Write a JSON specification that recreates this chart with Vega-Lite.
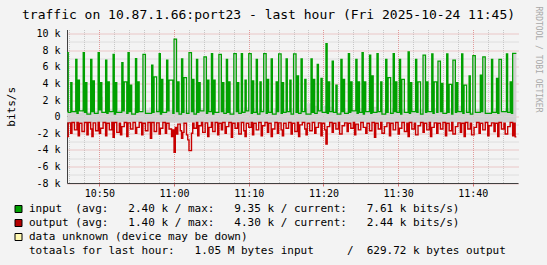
{
  "$schema": "https://vega.github.io/schema/vega-lite/v6.json",
  "width": 451,
  "height": 153.5,
  "autosize": {"type": "none"},
  "padding": {"left": 67, "top": 29.5, "right": 29, "bottom": 82},
  "background": "#f3f3f3",
  "title": {
    "text": "traffic on 10.87.1.66:port23 - last hour (Fri 2025-10-24 11:45)",
    "font": "DejaVu Sans Mono", "fontSize": 13, "fontWeight": "normal", "color": "#000000",
    "anchor": "start", "frame": "group", "dx": -45, "baseline": "alphabetic", "offset": -25.6
  },
  "config": {
    "font": "DejaVu Sans Mono",
    "view": {"fill": "#ffffff", "stroke": null}
  },
  "datasets": {
    "input": [
      {"t":-860,"v":7.7},{"t":-850,"v":0.5},{"t":-830,"v":4.1},{"t":-820,"v":0.6},{"t":-790,"v":6.9},{"t":-780,"v":0.4},{"t":-770,"v":4.4},{"t":-760,"v":0.7},
      {"t":-730,"v":7.7},{"t":-720,"v":0.5},{"t":-710,"v":4.1},{"t":-700,"v":0.3},{"t":-670,"v":6.9},{"t":-660,"v":0.6},{"t":-650,"v":4.3},{"t":-640,"v":0.4},
      {"t":-610,"v":7.7},{"t":-600,"v":0.8},{"t":-590,"v":4.1},{"t":-580,"v":0.5},{"t":-550,"v":6.8},{"t":-540,"v":0.4},{"t":-530,"v":4.2},{"t":-520,"v":0.6},
      {"t":-490,"v":7.5},{"t":-480,"v":0.3},{"t":-470,"v":4.1},{"t":-460,"v":0.5},{"t":-420,"v":6.5},{"t":-410,"v":0.7},{"t":-400,"v":4.2},{"t":-380,"v":0.4},
      {"t":-370,"v":7.7},{"t":-360,"v":0.6},{"t":-350,"v":3.8},{"t":-340,"v":0.3},{"t":-310,"v":7.0},{"t":-300,"v":0.5},{"t":-290,"v":4.2},{"t":-280,"v":0.6},
      {"t":-250,"v":7.5},{"t":-230,"v":0.4},{"t":-180,"v":6.2},{"t":-170,"v":0.5},{"t":-160,"v":4.8},{"t":-140,"v":0.6},{"t":-120,"v":7.6},{"t":-110,"v":0.3},
      {"t":-100,"v":4.5},{"t":-90,"v":0.5},{"t":-60,"v":6.8},{"t":-50,"v":0.7},{"t":-40,"v":4.4},{"t":-10,"v":0.4},{"t":0,"v":9.35},{"t":20,"v":0.6},
      {"t":30,"v":4.2},{"t":40,"v":0.3},{"t":60,"v":6.95},{"t":70,"v":0.5},{"t":80,"v":4.7},{"t":100,"v":0.4},{"t":120,"v":7.7},{"t":140,"v":0.6},
      {"t":150,"v":4.5},{"t":160,"v":0.3},{"t":180,"v":6.9},{"t":190,"v":0.5},{"t":200,"v":4.1},{"t":210,"v":0.7},{"t":240,"v":7.2},{"t":260,"v":0.4},
      {"t":270,"v":4.4},{"t":280,"v":0.6},{"t":300,"v":7.6},{"t":310,"v":0.3},{"t":320,"v":4.4},{"t":330,"v":0.5},{"t":360,"v":7.5},{"t":380,"v":0.6},
      {"t":390,"v":4.1},{"t":400,"v":0.4},{"t":420,"v":6.9},{"t":430,"v":0.5},{"t":440,"v":4.2},{"t":450,"v":0.3},{"t":480,"v":7.6},{"t":500,"v":0.6},
      {"t":510,"v":4.1},{"t":520,"v":0.4},{"t":540,"v":7.6},{"t":550,"v":0.5},{"t":570,"v":4.4},{"t":580,"v":0.7},{"t":600,"v":7.6},{"t":620,"v":0.4},
      {"t":630,"v":4.3},{"t":640,"v":0.5},{"t":660,"v":6.9},{"t":670,"v":0.3},{"t":690,"v":4.2},{"t":700,"v":0.6},{"t":720,"v":7.6},{"t":740,"v":0.4},
      {"t":750,"v":4.5},{"t":760,"v":0.5},{"t":780,"v":6.95},{"t":790,"v":0.3},{"t":820,"v":4.2},{"t":830,"v":0.6},{"t":840,"v":7.55},{"t":860,"v":0.4},
      {"t":870,"v":4.1},{"t":880,"v":0.5},{"t":900,"v":6.95},{"t":910,"v":0.6},{"t":930,"v":4.4},{"t":940,"v":0.3},{"t":960,"v":7.55},{"t":980,"v":0.5},
      {"t":990,"v":4.9},{"t":1000,"v":0.4},{"t":1020,"v":6.95},{"t":1030,"v":0.6},{"t":1050,"v":4.5},{"t":1060,"v":0.3},{"t":1100,"v":6.95},{"t":1110,"v":0.5},
      {"t":1120,"v":4.5},{"t":1130,"v":0.4},{"t":1150,"v":6.3},{"t":1160,"v":0.7},{"t":1180,"v":4.6},{"t":1190,"v":0.5},{"t":1220,"v":8.8},{"t":1230,"v":0.4},
      {"t":1240,"v":4.2},{"t":1250,"v":0.6},{"t":1270,"v":6.7},{"t":1280,"v":0.5},{"t":1300,"v":3.8},{"t":1310,"v":0.3},{"t":1340,"v":6.9},{"t":1350,"v":0.6},
      {"t":1360,"v":4.5},{"t":1370,"v":0.4},{"t":1400,"v":7.6},{"t":1410,"v":0.5},{"t":1420,"v":4.2},{"t":1430,"v":0.7},{"t":1460,"v":6.9},{"t":1470,"v":0.4},
      {"t":1480,"v":4.2},{"t":1490,"v":0.5},{"t":1510,"v":7.7},{"t":1520,"v":0.3},{"t":1530,"v":4.2},{"t":1540,"v":0.6},{"t":1570,"v":7.4},{"t":1580,"v":0.4},
      {"t":1590,"v":4.9},{"t":1600,"v":0.5},{"t":1630,"v":7.6},{"t":1640,"v":0.6},{"t":1660,"v":4.2},{"t":1670,"v":0.3},{"t":1700,"v":6.9},{"t":1710,"v":0.5},
      {"t":1720,"v":4.7},{"t":1740,"v":0.4},{"t":1760,"v":7.6},{"t":1770,"v":0.6},{"t":1780,"v":4.2},{"t":1790,"v":0.5},{"t":1810,"v":6.9},{"t":1820,"v":0.3},
      {"t":1830,"v":4.5},{"t":1850,"v":0.5},{"t":1880,"v":7.8},{"t":1890,"v":0.4},{"t":1900,"v":4.1},{"t":1910,"v":0.6},{"t":1940,"v":6.9},{"t":1950,"v":0.5},
      {"t":1960,"v":4.2},{"t":1980,"v":0.3},{"t":2000,"v":7.4},{"t":2020,"v":0.5},{"t":2030,"v":4.2},{"t":2040,"v":0.6},{"t":2070,"v":7.55},{"t":2080,"v":0.4},
      {"t":2090,"v":4.2},{"t":2110,"v":0.5},{"t":2120,"v":6.7},{"t":2140,"v":0.6},{"t":2150,"v":4.0},{"t":2160,"v":0.4},{"t":2190,"v":7.55},{"t":2200,"v":0.5},
      {"t":2210,"v":3.9},{"t":2230,"v":0.3},{"t":2240,"v":6.8},{"t":2260,"v":0.5},{"t":2270,"v":4.1},{"t":2280,"v":0.6},{"t":2310,"v":7.55},{"t":2320,"v":0.4},
      {"t":2330,"v":3.8},{"t":2350,"v":0.5},{"t":2370,"v":4.9},{"t":2380,"v":0.3},{"t":2400,"v":7.35},{"t":2420,"v":0.5},{"t":2460,"v":5.0},{"t":2470,"v":0.6},
      {"t":2480,"v":7.2},{"t":2500,"v":0.4},{"t":2550,"v":6.9},{"t":2560,"v":0.5},{"t":2590,"v":4.6},{"t":2600,"v":0.4},{"t":2610,"v":6.9},{"t":2630,"v":0.6},
      {"t":2670,"v":7.55},{"t":2680,"v":0.5},{"t":2700,"v":4.2},{"t":2710,"v":0.4},{"t":2720,"v":7.61},{"t":2750,"v":7.61}
    ],
    "output": [
      {"t":-860,"v":-2.4},{"t":-850,"v":-0.75},{"t":-830,"v":-2.0},{"t":-820,"v":-0.7},{"t":-800,"v":-1.6},{"t":-780,"v":-0.7},{"t":-770,"v":-2.3},{"t":-760,"v":-0.8},
      {"t":-740,"v":-1.8},{"t":-720,"v":-0.7},{"t":-700,"v":-2.2},{"t":-690,"v":-0.7},{"t":-670,"v":-1.5},{"t":-660,"v":-2.4},{"t":-650,"v":-0.75},{"t":-630,"v":-1.7},
      {"t":-610,"v":-0.7},{"t":-600,"v":-2.0},{"t":-590,"v":-1.4},{"t":-570,"v":-0.7},{"t":-550,"v":-2.3},{"t":-540,"v":-0.8},{"t":-520,"v":-1.6},{"t":-500,"v":-0.7},
      {"t":-490,"v":-2.5},{"t":-480,"v":-0.7},{"t":-460,"v":-1.9},{"t":-440,"v":-0.8},{"t":-430,"v":-2.2},{"t":-420,"v":-1.2},{"t":-400,"v":-0.7},{"t":-380,"v":-2.4},
      {"t":-370,"v":-0.75},{"t":-350,"v":-1.5},{"t":-330,"v":-0.7},{"t":-310,"v":-2.0},{"t":-300,"v":-1.3},{"t":-280,"v":-0.7},{"t":-260,"v":-2.2},{"t":-250,"v":-0.8},
      {"t":-230,"v":-1.7},{"t":-210,"v":-0.7},{"t":-190,"v":-2.6},{"t":-180,"v":-0.7},{"t":-160,"v":-1.8},{"t":-140,"v":-0.75},{"t":-120,"v":-2.1},{"t":-110,"v":-1.4},
      {"t":-90,"v":-0.7},{"t":-70,"v":-2.0},{"t":-60,"v":-0.8},{"t":-40,"v":-1.5},{"t":-20,"v":-2.4},{"t":-10,"v":-1.6},{"t":0,"v":-4.3},{"t":10,"v":-1.3},
      {"t":20,"v":-2.1},{"t":30,"v":-0.9},{"t":50,"v":-1.7},{"t":60,"v":-2.6},{"t":70,"v":-1.9},{"t":80,"v":-0.8},{"t":100,"v":-2.2},{"t":110,"v":-2.8},
      {"t":120,"v":-4.1},{"t":140,"v":-2.0},{"t":150,"v":-0.8},{"t":160,"v":-1.4},{"t":180,"v":-0.7},{"t":190,"v":-2.3},{"t":200,"v":-1.1},{"t":220,"v":-0.7},
      {"t":230,"v":-1.9},{"t":250,"v":-0.75},{"t":270,"v":-2.4},{"t":280,"v":-1.3},{"t":300,"v":-0.7},{"t":310,"v":-1.8},{"t":330,"v":-0.7},{"t":350,"v":-2.2},
      {"t":360,"v":-0.8},{"t":380,"v":-1.6},{"t":390,"v":-0.7},{"t":410,"v":-2.0},{"t":420,"v":-1.2},{"t":440,"v":-0.7},{"t":460,"v":-2.5},{"t":470,"v":-0.8},
      {"t":490,"v":-1.4},{"t":510,"v":-0.75},{"t":520,"v":-2.1},{"t":540,"v":-0.7},{"t":560,"v":-1.7},{"t":570,"v":-2.4},{"t":580,"v":-0.8},{"t":600,"v":-1.3},
      {"t":620,"v":-0.7},{"t":630,"v":-2.2},{"t":640,"v":-0.8},{"t":660,"v":-1.6},{"t":680,"v":-0.7},{"t":700,"v":-2.3},{"t":710,"v":-1.1},{"t":730,"v":-0.7},
      {"t":750,"v":-1.9},{"t":760,"v":-0.8},{"t":780,"v":-2.4},{"t":790,"v":-1.5},{"t":810,"v":-0.7},{"t":830,"v":-2.0},{"t":840,"v":-0.75},{"t":860,"v":-1.6},
      {"t":870,"v":-2.3},{"t":880,"v":-0.8},{"t":900,"v":-1.4},{"t":920,"v":-0.7},{"t":940,"v":-2.1},{"t":950,"v":-0.8},{"t":970,"v":-1.8},{"t":990,"v":-0.7},
      {"t":1000,"v":-2.4},{"t":1010,"v":-1.0},{"t":1030,"v":-0.7},{"t":1050,"v":-1.5},{"t":1060,"v":-2.2},{"t":1070,"v":-0.8},{"t":1090,"v":-1.7},{"t":1110,"v":-0.7},
      {"t":1130,"v":-2.0},{"t":1140,"v":-1.3},{"t":1160,"v":-0.75},{"t":1180,"v":-2.3},{"t":1190,"v":-0.8},{"t":1210,"v":-1.6},{"t":1220,"v":-3.3},{"t":1230,"v":-1.2},
      {"t":1250,"v":-0.7},{"t":1270,"v":-1.9},{"t":1280,"v":-0.8},{"t":1300,"v":-1.5},{"t":1320,"v":-0.7},{"t":1330,"v":-2.1},{"t":1350,"v":-1.1},{"t":1370,"v":-0.75},
      {"t":1390,"v":-1.8},{"t":1400,"v":-0.8},{"t":1420,"v":-1.4},{"t":1440,"v":-0.7},{"t":1450,"v":-2.2},{"t":1460,"v":-0.9},{"t":1480,"v":-1.6},{"t":1500,"v":-0.7},
      {"t":1520,"v":-1.3},{"t":1540,"v":-2.0},{"t":1550,"v":-0.8},{"t":1570,"v":-1.7},{"t":1590,"v":-0.7},{"t":1610,"v":-2.5},{"t":1620,"v":-0.8},{"t":1640,"v":-1.5},
      {"t":1660,"v":-0.7},{"t":1670,"v":-2.0},{"t":1690,"v":-1.2},{"t":1710,"v":-0.75},{"t":1730,"v":-2.3},{"t":1740,"v":-0.8},{"t":1760,"v":-1.6},{"t":1780,"v":-0.7},
      {"t":1800,"v":-2.1},{"t":1810,"v":-1.4},{"t":1830,"v":-0.7},{"t":1850,"v":-1.8},{"t":1870,"v":-0.8},{"t":1880,"v":-2.4},{"t":1890,"v":-0.7},{"t":1910,"v":-1.5},
      {"t":1930,"v":-0.8},{"t":1940,"v":-2.2},{"t":1960,"v":-1.1},{"t":1980,"v":-0.7},{"t":2000,"v":-1.9},{"t":2010,"v":-0.8},{"t":2030,"v":-1.6},{"t":2050,"v":-0.7},
      {"t":2060,"v":-2.4},{"t":2070,"v":-1.3},{"t":2090,"v":-0.75},{"t":2110,"v":-2.0},{"t":2120,"v":-0.8},{"t":2140,"v":-1.5},{"t":2160,"v":-0.7},{"t":2180,"v":-2.3},
      {"t":2190,"v":-0.8},{"t":2210,"v":-1.7},{"t":2230,"v":-0.7},{"t":2240,"v":-2.1},{"t":2260,"v":-1.2},{"t":2280,"v":-0.75},{"t":2300,"v":-1.9},{"t":2310,"v":-0.8},
      {"t":2330,"v":-2.4},{"t":2340,"v":-0.7},{"t":2360,"v":-1.5},{"t":2380,"v":-0.8},{"t":2390,"v":-2.2},{"t":2410,"v":-1.3},{"t":2430,"v":-0.7},{"t":2450,"v":-2.0},
      {"t":2460,"v":-0.8},{"t":2480,"v":-1.6},{"t":2500,"v":-0.7},{"t":2520,"v":-2.3},{"t":2530,"v":-1.1},{"t":2550,"v":-0.75},{"t":2570,"v":-1.8},{"t":2580,"v":-0.8},
      {"t":2600,"v":-2.4},{"t":2610,"v":-0.7},{"t":2630,"v":-1.5},{"t":2650,"v":-0.8},{"t":2660,"v":-2.1},{"t":2680,"v":-1.2},{"t":2700,"v":-0.7},{"t":2720,"v":-2.3},
      {"t":2730,"v":-0.8},{"t":2740,"v":-2.44},{"t":2750,"v":-2.44}
    ],
    "grayin": [
      {"t":-860,"v":0.6},{"t":-820,"v":0.8},{"t":-780,"v":0.5},{"t":-740,"v":0.9},{"t":-700,"v":0.6},{"t":-660,"v":0.7},{"t":-610,"v":2.4},{"t":-570,"v":0.6},
      {"t":-530,"v":0.9},{"t":-500,"v":0.5},{"t":-450,"v":0.8},{"t":-420,"v":1.3},{"t":-400,"v":0.7},{"t":-360,"v":0.5},{"t":-320,"v":1.0},{"t":-280,"v":0.6},
      {"t":-250,"v":7.5},{"t":-230,"v":0.8},{"t":-200,"v":1.1},{"t":-180,"v":0.7},{"t":-140,"v":0.9},{"t":-100,"v":0.5},{"t":-70,"v":1.0},{"t":-40,"v":0.8},
      {"t":0,"v":9.35},{"t":20,"v":0.7},{"t":60,"v":1.1},{"t":80,"v":0.8},{"t":120,"v":7.7},{"t":140,"v":0.9},{"t":170,"v":0.6},{"t":210,"v":1.0},
      {"t":240,"v":7.2},{"t":260,"v":0.7},{"t":290,"v":0.9},{"t":330,"v":0.6},{"t":360,"v":7.5},{"t":380,"v":0.8},{"t":410,"v":1.0},{"t":450,"v":0.6},
      {"t":480,"v":7.6},{"t":500,"v":0.9},{"t":530,"v":0.7},{"t":560,"v":1.1},{"t":600,"v":7.6},{"t":620,"v":1.0},{"t":650,"v":0.7},{"t":680,"v":0.9},
      {"t":720,"v":7.6},{"t":740,"v":0.8},{"t":770,"v":0.6},{"t":800,"v":1.0},{"t":840,"v":7.55},{"t":860,"v":0.9},{"t":890,"v":0.6},{"t":920,"v":1.0},
      {"t":960,"v":7.55},{"t":980,"v":0.8},{"t":1010,"v":0.6},{"t":1040,"v":1.0},{"t":1070,"v":1.6},{"t":1100,"v":0.8},{"t":1130,"v":1.3},{"t":1150,"v":0.7},
      {"t":1190,"v":1.3},{"t":1220,"v":0.8},{"t":1250,"v":1.2},{"t":1280,"v":0.9},{"t":1310,"v":0.6},{"t":1350,"v":1.0},{"t":1380,"v":0.7},{"t":1410,"v":0.9},
      {"t":1450,"v":0.6},{"t":1490,"v":1.0},{"t":1520,"v":0.7},{"t":1560,"v":0.9},{"t":1600,"v":1.2},{"t":1630,"v":0.7},{"t":1670,"v":0.9},{"t":1710,"v":0.6},
      {"t":1750,"v":1.0},{"t":1780,"v":0.7},{"t":1820,"v":0.9},{"t":1860,"v":0.6},{"t":1890,"v":1.0},{"t":1930,"v":0.7},{"t":1970,"v":0.9},{"t":2000,"v":7.4},
      {"t":2020,"v":0.8},{"t":2050,"v":0.6},{"t":2090,"v":1.0},{"t":2120,"v":6.7},{"t":2140,"v":0.8},{"t":2180,"v":0.6},{"t":2210,"v":1.0},{"t":2240,"v":6.8},
      {"t":2260,"v":0.7},{"t":2290,"v":1.3},{"t":2320,"v":0.8},{"t":2360,"v":0.6},{"t":2400,"v":7.35},{"t":2420,"v":0.9},{"t":2450,"v":0.7},{"t":2480,"v":7.2},
      {"t":2500,"v":0.8},{"t":2530,"v":0.6},{"t":2570,"v":1.0},{"t":2610,"v":6.9},{"t":2630,"v":0.7},{"t":2660,"v":1.0},{"t":2690,"v":0.6},{"t":2720,"v":7.61},
      {"t":2750,"v":7.61}
    ],
    "grayout": [
      {"t":-860,"v":-0.7},{"t":-560,"v":-0.8},{"t":-510,"v":-0.65},{"t":-260,"v":-0.75},{"t":40,"v":-0.9},{"t":90,"v":-0.7},{"t":440,"v":-0.8},
      {"t":540,"v":-0.7},{"t":1140,"v":-0.85},{"t":1190,"v":-0.7},{"t":1740,"v":-0.75},{"t":2140,"v":-0.7},{"t":2750,"v":-0.7}
    ],
    "legend": [
      {"entry": "input\u00a0\u00a0(avg:\u00a0\u00a0\u00a02.40 k / max:\u00a0\u00a0\u00a09.35 k / current:\u00a0\u00a0\u00a07.61 k bits/s)"},
      {"entry": "output (avg:\u00a0\u00a0\u00a01.40 k / max:\u00a0\u00a0\u00a04.30 k / current:\u00a0\u00a0\u00a02.44 k bits/s)"},
      {"entry": "data unknown (device may be down)"},
      {"entry": "totaals for last hour:\u00a0\u00a0\u00a01.05 M bytes input\u00a0\u00a0\u00a0\u00a0\u00a0/\u00a0\u00a0629.72 k bytes output"}
    ]
  },
  "resolve": {"axis": {"x": "independent", "y": "independent"}},
  "layer": [
    {
      "data": {"name": "grayin"},
      "mark": {"type": "area", "interpolate": "step-after", "color": "#d2d2d2"},
      "encoding": {
        "x": {
          "field": "t", "type": "quantitative",
          "scale": {"domain": [-860, 2763], "nice": false, "zero": false},
          "axis": {
            "orient": "bottom", "title": null,
            "values": [-840,-720,-480,-360,-240,-120,120,240,360,480,720,840,960,1080,1320,1440,1560,1680,1920,2040,2160,2280,2520,2640],
            "labels": false, "ticks": false, "domain": false,
            "grid": true, "gridColor": "#c8c8c8", "gridDash": [1, 1]
          }
        },
        "y": {
          "field": "v", "type": "quantitative",
          "scale": {"domain": [-8, 10.5], "nice": false, "zero": false},
          "axis": {
            "orient": "left",
            "title": "bits/s", "titleX": -56, "titleY": 76.75, "titleAngle": 270,
            "titleAlign": "center", "titleBaseline": "middle",
            "titleFont": "DejaVu Sans Mono", "titleFontSize": 11, "titleFontWeight": "normal", "titleColor": "#000000",
            "values": [-8,-7,-6,-5,-4,-3,-2,-1,0,1,2,3,4,5,6,7,8,9,10],
            "labelExpr": "datum.value % 2 !== 0 ? '' : (datum.value === 0 ? '0\u00a0\u00a0' : datum.value + ' k')",
            "labelFont": "DejaVu Sans Mono", "labelFontSize": 10, "labelColor": "#000000",
            "labelPadding": 7, "labelOverlap": false, "labelFlush": false,
            "ticks": false, "tickSize": 0,
            "grid": true,
            "gridColor": {"condition": {"test": "datum.value % 2 === 0", "value": "#e09a9a"}, "value": "#c8c8c8"},
            "gridDash": [1, 1],
            "domainColor": "#404040", "domainWidth": 1
          }
        },
        "y2": {"datum": 0}
      }
    },
    {
      "data": {"name": "grayout"},
      "mark": {"type": "area", "interpolate": "step-after", "color": "#d2d2d2"},
      "encoding": {
        "x": {
          "field": "t", "type": "quantitative",
          "scale": {"domain": [-860, 2763], "nice": false, "zero": false},
          "axis": {
            "orient": "bottom", "title": null,
            "values": [-600, 0, 600, 1200, 1800, 2400],
            "labelExpr": "floor((660 + round(datum.value/60))/60) + ':' + (((660 + round(datum.value/60)) % 60) < 10 ? '0' : '') + ((660 + round(datum.value/60)) % 60)",
            "labelFont": "DejaVu Sans Mono", "labelFontSize": 10, "labelColor": "#000000",
            "labelPadding": 2, "labelAngle": 0, "labelOverlap": false, "labelFlush": false,
            "ticks": true, "tickSize": 3, "tickColor": "#d07070",
            "grid": true, "gridColor": "#e09a9a", "gridDash": [1, 1],
            "domainColor": "#404040", "domainWidth": 1
          }
        },
        "y": {"field": "v", "type": "quantitative", "scale": {"domain": [-8, 10.5], "nice": false, "zero": false}, "axis": null},
        "y2": {"datum": 0}
      }
    },
    {
      "data": {"name": "input"},
      "mark": {"type": "line", "interpolate": "step-after", "color": "#00a000", "strokeWidth": 1.25, "strokeCap": "butt", "strokeJoin": "miter"},
      "encoding": {
        "x": {"field": "t", "type": "quantitative", "scale": {"domain": [-860, 2763], "nice": false, "zero": false}, "axis": null},
        "y": {"field": "v", "type": "quantitative", "scale": {"domain": [-8, 10.5], "nice": false, "zero": false}, "axis": null}
      }
    },
    {
      "data": {"name": "output"},
      "mark": {"type": "line", "interpolate": "step-after", "color": "#c80000", "strokeWidth": 1.4, "strokeCap": "butt", "strokeJoin": "miter"},
      "encoding": {
        "x": {"field": "t", "type": "quantitative", "scale": {"domain": [-860, 2763], "nice": false, "zero": false}, "axis": null},
        "y": {"field": "v", "type": "quantitative", "scale": {"domain": [-8, 10.5], "nice": false, "zero": false}, "axis": null}
      }
    },
    {
      "mark": {"type": "rule", "color": "#000000", "strokeWidth": 2},
      "encoding": {
        "y": {
          "datum": 0, "type": "quantitative",
          "scale": {"domain": [-8, 10.5], "nice": false, "zero": false},
          "axis": {
            "orient": "right", "domain": false, "ticks": false, "labels": false, "grid": false,
            "title": "RRDTOOL / TOBI OETIKER", "titleX": 19, "titleY": 29.5, "titleAngle": 90,
            "titleAlign": "center", "titleBaseline": "middle",
            "titleFont": "DejaVu Sans Mono", "titleFontSize": 8, "titleFontWeight": "normal", "titleColor": "#a8a8a8"
          }
        }
      }
    },
    {
      "mark": {"type": "point", "shape": "triangle-up", "filled": true, "color": "#8c1c1c", "size": 28, "opacity": 1},
      "encoding": {
        "x": {"datum": -860, "type": "quantitative", "scale": {"domain": [-860, 2763], "nice": false, "zero": false}, "axis": null},
        "y": {"datum": 10.3, "type": "quantitative", "scale": {"domain": [-8, 10.5], "nice": false, "zero": false}, "axis": null}
      }
    },
    {
      "mark": {"type": "point", "shape": "triangle-right", "filled": true, "color": "#8c1c1c", "size": 28, "opacity": 1},
      "encoding": {
        "x": {"datum": 2790, "type": "quantitative", "scale": {"domain": [-860, 2763], "nice": false, "zero": false}, "axis": null},
        "y": {"datum": -8, "type": "quantitative", "scale": {"domain": [-8, 10.5], "nice": false, "zero": false}, "axis": null}
      }
    },
    {
      "data": {"name": "legend"},
      "mark": {"type": "square", "opacity": 0, "size": 1},
      "encoding": {
        "color": {
          "field": "entry", "type": "nominal",
          "scale": {
            "domain": [
              "input\u00a0\u00a0(avg:\u00a0\u00a0\u00a02.40 k / max:\u00a0\u00a0\u00a09.35 k / current:\u00a0\u00a0\u00a07.61 k bits/s)",
              "output (avg:\u00a0\u00a0\u00a01.40 k / max:\u00a0\u00a0\u00a04.30 k / current:\u00a0\u00a0\u00a02.44 k bits/s)",
              "data unknown (device may be down)",
              "totaals for last hour:\u00a0\u00a0\u00a01.05 M bytes input\u00a0\u00a0\u00a0\u00a0\u00a0/\u00a0\u00a0629.72 k bytes output"
            ],
            "range": ["#00a000", "#b40000", "#fff8b0", "rgba(0,0,0,0)"]
          },
          "legend": {
            "title": null, "orient": "none", "legendX": -54, "legendY": 174, "direction": "vertical",
            "symbolType": "square", "symbolSize": 49, "symbolStrokeWidth": 1, "symbolStrokeColor": "#000000", "symbolOpacity": 1,
            "labelFont": "DejaVu Sans Mono", "labelFontSize": 11, "labelColor": "#000000", "labelLimit": 800,
            "labelOffset": 5, "rowPadding": 2, "padding": 0,
            "encode": {"symbols": {"update": {"stroke": {"signal": "datum.index === 3 ? 'rgba(0,0,0,0)' : '#000000'"}, "opacity": {"value": 1}}}}
          }
        }
      }
    }
  ]
}
